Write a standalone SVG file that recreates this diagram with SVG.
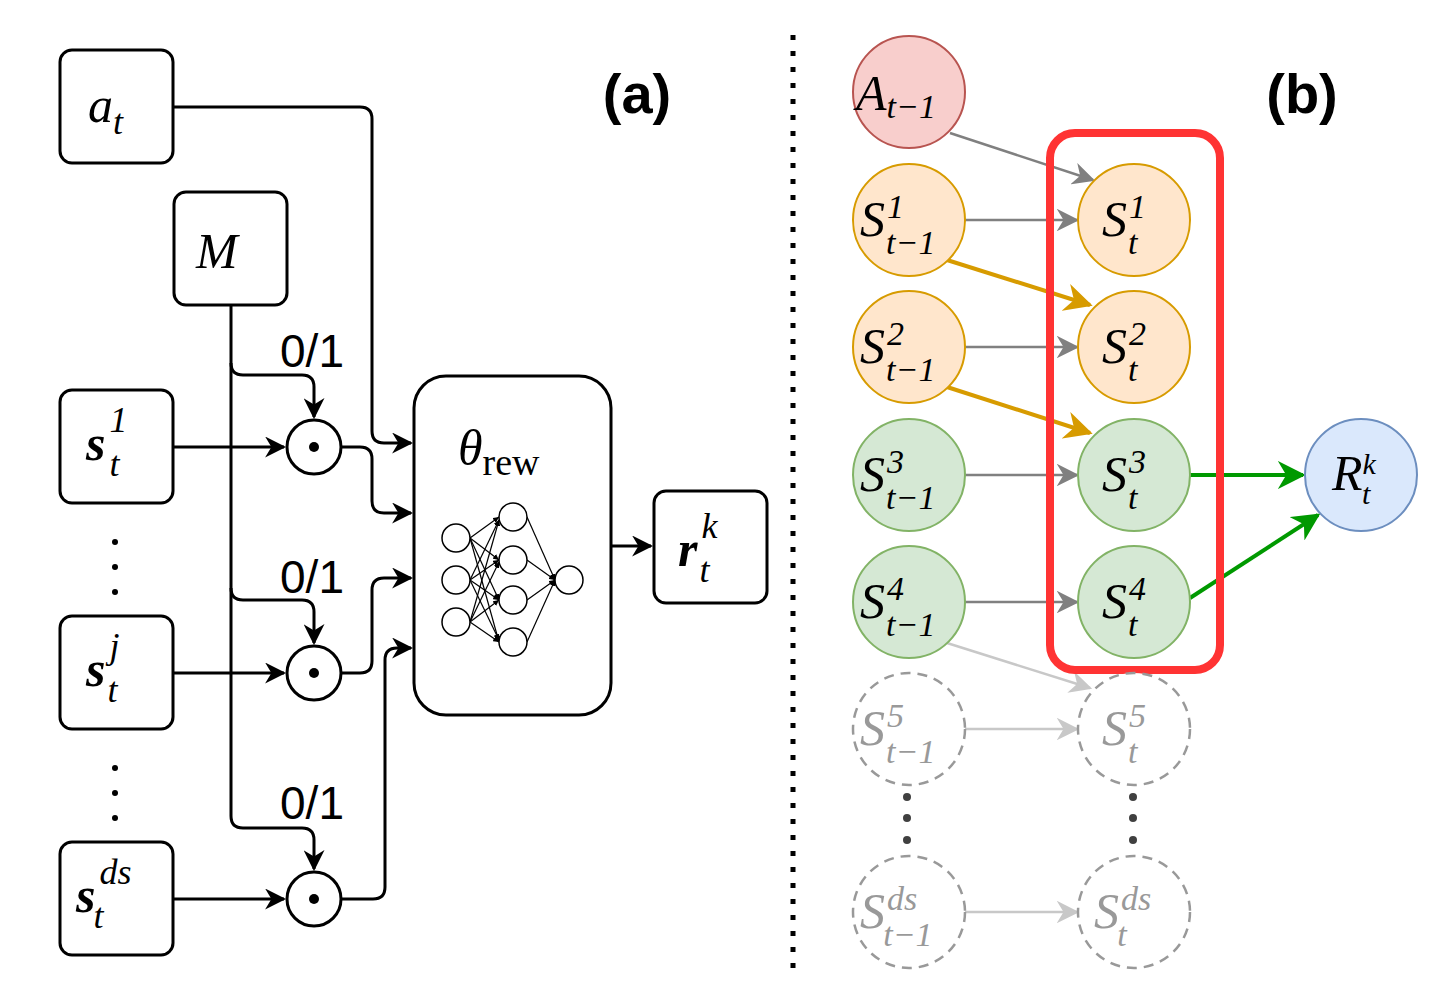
<svg xmlns="http://www.w3.org/2000/svg" width="1446" height="992" viewBox="0 0 1446 992">
<style>
.box{fill:#fff;stroke:#000;stroke-width:3}
.m{font-family:"Liberation Serif",serif;font-style:italic;fill:#000}
.r{font-family:"Liberation Serif",serif;fill:#000}
.lbl{font-family:"Liberation Sans",Arial,sans-serif;font-size:46px}
.w{fill:none;stroke:#000;stroke-width:3}
.nn{fill:#fff;stroke:#000;stroke-width:1.5}
.nl{stroke:#000;stroke-width:1.2}
.g{fill:none;stroke:#808080;stroke-width:2.5}
.o{fill:none;stroke:#d79b00;stroke-width:4}
.gr{fill:none;stroke:#009900;stroke-width:4}
.lg{fill:none;stroke:#c8c8c8;stroke-width:2.5}
.or{fill:#ffe6cc;stroke:#d79b00;stroke-width:2}
.gn{fill:#d5e8d4;stroke:#82b366;stroke-width:2}
.ds{fill:#fff;stroke:#999;stroke-width:2.5;stroke-dasharray:10 7}
.c{font-family:"Liberation Serif",serif;font-style:italic;font-size:50px;fill:#000}
.cg{fill:#999}
</style>
<defs>
<marker id="ab" viewBox="0 0 10 10" refX="9" refY="5" markerWidth="8" markerHeight="8" markerUnits="userSpaceOnUse" orient="auto"><path d="M0,0L10,5L0,10L3,5z" fill="#000"/></marker>
<marker id="a" viewBox="0 0 10 10" refX="9" refY="5" markerWidth="7" markerHeight="7" orient="auto"><path d="M0,0L10,5L0,10L3,5z" fill="#000"/></marker>
<marker id="ag" viewBox="0 0 10 10" refX="9" refY="5" markerWidth="9" markerHeight="9" orient="auto"><path d="M0,0L10,5L0,10L3,5z" fill="#808080"/></marker>
<marker id="ao" viewBox="0 0 10 10" refX="9" refY="5" markerWidth="7" markerHeight="7" orient="auto"><path d="M0,0L10,5L0,10L3,5z" fill="#d79b00"/></marker>
<marker id="agr" viewBox="0 0 10 10" refX="9" refY="5" markerWidth="7" markerHeight="7" orient="auto"><path d="M0,0L10,5L0,10L3,5z" fill="#009900"/></marker>
<marker id="alg" viewBox="0 0 10 10" refX="9" refY="5" markerWidth="9" markerHeight="9" orient="auto"><path d="M0,0L10,5L0,10L3,5z" fill="#c8c8c8"/></marker>
<marker id="nm" viewBox="0 0 10 10" refX="10" refY="5" markerWidth="6" markerHeight="6" markerUnits="userSpaceOnUse" orient="auto"><path d="M0,0L10,5L0,10z" fill="#000"/></marker>
</defs>

<g id="connectors">
<path class="w" d="M173,107H360Q372,107 372,119V431Q372,443 384,443H411" marker-end="url(#a)"/>
<path class="w" d="M231,305V363Q231,375 243,375H302Q314,375 314,387V417" marker-end="url(#a)"/>
<path class="w" d="M231,363V588Q231,600 243,600H302Q314,600 314,612V643" marker-end="url(#a)"/>
<path class="w" d="M231,588V816Q231,828 243,828H302Q314,828 314,840V869" marker-end="url(#a)"/>
<path class="w" d="M173,447H284" marker-end="url(#a)"/>
<path class="w" d="M173,673H284" marker-end="url(#a)"/>
<path class="w" d="M173,899H284" marker-end="url(#a)"/>
<path class="w" d="M341,447H360Q372,447 372,459V501Q372,513 384,513H411" marker-end="url(#a)"/>
<path class="w" d="M341,673H360Q372,673 372,661V590Q372,578 384,578H411" marker-end="url(#a)"/>
<path class="w" d="M341,899H373Q385,899 385,887V660Q385,648 397,648H411" marker-end="url(#a)"/>
<path class="w" d="M611,546H651" marker-end="url(#a)"/>
<line x1="793" y1="35" x2="793" y2="968" stroke="#000" stroke-width="5" stroke-dasharray="5 11"/>
<path class="g" d="M950,133L1093,180" marker-end="url(#ag)"/>
<path class="g" d="M965,220H1077" marker-end="url(#ag)"/>
<path class="g" d="M965,347H1077" marker-end="url(#ag)"/>
<path class="g" d="M965,475H1077" marker-end="url(#ag)"/>
<path class="g" d="M965,602H1077" marker-end="url(#ag)"/>
<path class="o" d="M947,260L1090,305" marker-end="url(#ao)"/>
<path class="o" d="M947,387L1090,433" marker-end="url(#ao)"/>
<path class="gr" d="M1190,475H1303" marker-end="url(#agr)"/>
<path class="gr" d="M1190,598L1318,515" marker-end="url(#agr)"/>
<path class="lg" d="M947,643L1090,688" marker-end="url(#alg)"/>
<path class="lg" d="M965,729H1077" marker-end="url(#alg)"/>
<path class="lg" d="M965,912H1077" marker-end="url(#alg)"/>
<g fill="#000"><circle cx="115" cy="542" r="3"/><circle cx="115" cy="567" r="3"/><circle cx="115" cy="592" r="3"/>
<circle cx="115" cy="768" r="3"/><circle cx="115" cy="793" r="3"/><circle cx="115" cy="818" r="3"/></g>
<g fill="#404040"><circle cx="907" cy="797" r="4"/><circle cx="907" cy="818" r="4"/><circle cx="907" cy="840" r="4"/>
<circle cx="1133" cy="797" r="4"/><circle cx="1133" cy="818" r="4"/><circle cx="1133" cy="840" r="4"/></g>
</g>

<g id="labels">
<text class="lbl" x="312" y="367" text-anchor="middle">0/1</text>
<text class="lbl" x="312" y="593" text-anchor="middle">0/1</text>
<text class="lbl" x="312" y="819" text-anchor="middle">0/1</text>
<text x="637" y="113" font-family="Liberation Sans,Arial,sans-serif" font-weight="bold" font-size="56" text-anchor="middle">(a)</text>
<text x="1302" y="113" font-family="Liberation Sans,Arial,sans-serif" font-weight="bold" font-size="56" text-anchor="middle">(b)</text>
</g>

<g id="n_at"><rect class="box" x="60" y="50" width="113" height="113" rx="12"/><text class="c" x="88" y="122">a<tspan font-size="36" dy="12">t</tspan></text></g>
<g id="n_M"><rect class="box" x="174" y="192" width="113" height="113" rx="12"/><text class="c" x="196" y="268">M</text></g>
<g id="n_s1"><rect class="box" x="60" y="390" width="113" height="113" rx="12"/><text class="c" x="86" y="460" font-weight="bold">s<tspan font-size="36" font-weight="normal" dx="4" dy="-28">1</tspan><tspan font-size="36" font-weight="normal" dx="-18" dy="44">t</tspan></text></g>
<g id="n_sj"><rect class="box" x="60" y="616" width="113" height="113" rx="12"/><text class="c" x="86" y="686" font-weight="bold">s<tspan font-size="36" font-weight="normal" dx="4" dy="-28">j</tspan><tspan font-size="36" font-weight="normal" dx="-12" dy="44">t</tspan></text></g>
<g id="n_sds"><rect class="box" x="60" y="842" width="113" height="113" rx="12"/><text class="c" x="76" y="912" font-weight="bold">s<tspan font-size="36" font-weight="normal" dx="4" dy="-28">ds</tspan><tspan font-size="36" font-weight="normal" dx="-38" dy="44">t</tspan></text></g>
<g id="odot1"><circle cx="314" cy="447" r="27" class="box"/><circle cx="314" cy="447" r="5"/></g>
<g id="odot2"><circle cx="314" cy="673" r="27" class="box"/><circle cx="314" cy="673" r="5"/></g>
<g id="odot3"><circle cx="314" cy="899" r="27" class="box"/><circle cx="314" cy="899" r="5"/></g>

<g id="n_theta"><rect class="box" x="414" y="376" width="197" height="339" rx="32"/>
<text class="c" x="458" y="465" font-size="54">θ<tspan font-style="normal" font-size="38" dy="10">rew</tspan></text>
<g class="nl" marker-end="url(#nm)">
<line x1="470" y1="538" x2="499" y2="517"/><line x1="470" y1="538" x2="499" y2="560"/><line x1="470" y1="538" x2="499" y2="600"/><line x1="470" y1="538" x2="499" y2="642"/>
<line x1="470" y1="580" x2="499" y2="520"/><line x1="470" y1="580" x2="499" y2="560"/><line x1="470" y1="580" x2="499" y2="600"/><line x1="470" y1="580" x2="499" y2="640"/>
<line x1="470" y1="622" x2="499" y2="520"/><line x1="470" y1="622" x2="499" y2="562"/><line x1="470" y1="622" x2="499" y2="600"/><line x1="470" y1="622" x2="499" y2="642"/>
<line x1="527" y1="517" x2="555" y2="580"/><line x1="527" y1="560" x2="555" y2="580"/><line x1="527" y1="600" x2="555" y2="580"/><line x1="527" y1="642" x2="555" y2="580"/>
</g>
<g class="nn"><circle cx="456" cy="538" r="14"/><circle cx="456" cy="580" r="14"/><circle cx="456" cy="622" r="14"/>
<circle cx="513" cy="517" r="14"/><circle cx="513" cy="560" r="14"/><circle cx="513" cy="600" r="14"/><circle cx="513" cy="642" r="14"/>
<circle cx="569" cy="580" r="14"/></g>
</g>
<g id="n_r"><rect class="box" x="654" y="491" width="113" height="112" rx="12"/><text class="c" x="678" y="566" font-weight="bold">r<tspan font-size="36" font-weight="normal" dx="4" dy="-28">k</tspan><tspan font-size="36" font-weight="normal" dx="-18" dy="44">t</tspan></text></g>

<g id="n_A"><circle cx="909" cy="92" r="56" fill="#f8cecc" stroke="#b85450" stroke-width="2"/><text class="c" x="856" y="110">A<tspan font-size="34" dy="8">t−1</tspan></text></g>
<g id="box_red"><rect x="1050" y="133" width="170" height="537" rx="25" fill="none" stroke="#ff3333" stroke-width="8"/></g>
<g id="n_S1p"><circle class="or" cx="909" cy="220" r="56"/><text class="c" x="860" y="236">S<tspan font-size="34" dx="2" dy="-18">1</tspan><tspan font-size="34" dx="-18" dy="36">t−1</tspan></text></g>
<g id="n_S2p"><circle class="or" cx="909" cy="347" r="56"/><text class="c" x="860" y="363">S<tspan font-size="34" dx="2" dy="-18">2</tspan><tspan font-size="34" dx="-18" dy="36">t−1</tspan></text></g>
<g id="n_S3p"><circle class="gn" cx="909" cy="475" r="56"/><text class="c" x="860" y="491">S<tspan font-size="34" dx="2" dy="-18">3</tspan><tspan font-size="34" dx="-18" dy="36">t−1</tspan></text></g>
<g id="n_S4p"><circle class="gn" cx="909" cy="602" r="56"/><text class="c" x="860" y="618">S<tspan font-size="34" dx="2" dy="-18">4</tspan><tspan font-size="34" dx="-18" dy="36">t−1</tspan></text></g>
<g id="n_S5p"><circle class="ds" cx="909" cy="729" r="56"/><text class="c cg" x="860" y="745">S<tspan font-size="34" dx="2" dy="-18">5</tspan><tspan font-size="34" dx="-18" dy="36">t−1</tspan></text></g>
<g id="n_Sdp"><circle class="ds" cx="909" cy="912" r="56"/><text class="c cg" x="860" y="928">S<tspan font-size="34" dx="2" dy="-18">ds</tspan><tspan font-size="34" dx="-34" dy="36">t−1</tspan></text></g>
<g id="n_S1"><circle class="or" cx="1134" cy="220" r="56"/><text class="c" x="1102" y="236">S<tspan font-size="34" dx="2" dy="-18">1</tspan><tspan font-size="34" dx="-18" dy="36">t</tspan></text></g>
<g id="n_S2"><circle class="or" cx="1134" cy="347" r="56"/><text class="c" x="1102" y="363">S<tspan font-size="34" dx="2" dy="-18">2</tspan><tspan font-size="34" dx="-18" dy="36">t</tspan></text></g>
<g id="n_S3"><circle class="gn" cx="1134" cy="475" r="56"/><text class="c" x="1102" y="491">S<tspan font-size="34" dx="2" dy="-18">3</tspan><tspan font-size="34" dx="-18" dy="36">t</tspan></text></g>
<g id="n_S4"><circle class="gn" cx="1134" cy="602" r="56"/><text class="c" x="1102" y="618">S<tspan font-size="34" dx="2" dy="-18">4</tspan><tspan font-size="34" dx="-18" dy="36">t</tspan></text></g>
<g id="n_S5"><circle class="ds" cx="1134" cy="729" r="56"/><text class="c cg" x="1102" y="745">S<tspan font-size="34" dx="2" dy="-18">5</tspan><tspan font-size="34" dx="-18" dy="36">t</tspan></text></g>
<g id="n_Sd"><circle class="ds" cx="1134" cy="912" r="56"/><text class="c cg" x="1094" y="928">S<tspan font-size="34" dx="2" dy="-18">ds</tspan><tspan font-size="34" dx="-34" dy="36">t</tspan></text></g>
<g id="n_R"><circle cx="1361" cy="475" r="56" fill="#dae8fc" stroke="#6c8ebf" stroke-width="2"/><text class="c" x="1332" y="490">R<tspan font-size="30" dx="0" dy="-16">k</tspan><tspan font-size="30" dx="-14" dy="30">t</tspan></text></g>
</svg>
